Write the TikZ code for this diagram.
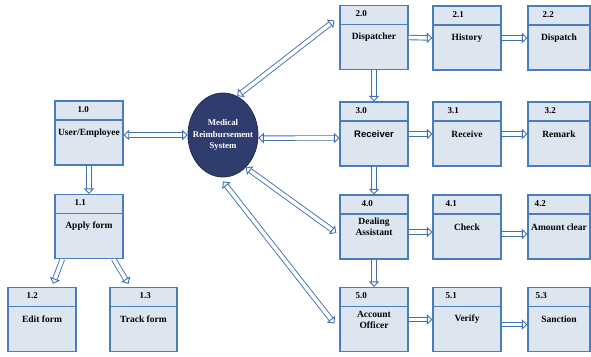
\documentclass[tikz,border=0pt]{standalone}
\usepackage{fontspec}
\setmainfont{Liberation Serif}
\setsansfont{Liberation Sans}
\usetikzlibrary{arrows,arrows.meta}
\usetikzlibrary{shapes.geometric}
\usepackage{xcolor}
\definecolor{boxblue}{HTML}{4A7CC0}
\definecolor{boxfill}{HTML}{DDE5F0}
\definecolor{sysnavy}{HTML}{2F3D6E}
\definecolor{flowblue}{HTML}{3F70B2}

\tikzset{
 procbox/.style={draw=boxblue, line width=1.3pt, fill=boxfill, minimum height=64pt, inner sep=1pt, align=center,
  font=\fontsize{9.5}{11}\selectfont\bfseries,
  path picture={\draw[boxblue, line width=1.3pt] ([yshift=-19pt]path picture bounding box.north west) -- ([yshift=-19pt]path picture bounding box.north east);}},
 numlbl/.style={font=\fontsize{9}{10}\selectfont\bfseries, inner sep=0pt},
 sysnode/.style={ellipse, fill=sysnavy, draw=sysnavy!70!black, line width=0.8pt, minimum width=70pt, minimum height=84pt, inner sep=0pt},
 systext/.style={text=white, align=center, inner sep=0pt, font=\fontsize{8.8}{11.5}\selectfont\bfseries},
 flowtip/.tip={Triangle[open, fill=white, length=5.5pt, width=10.5pt, line width=0.9pt]},
 flow/.style={draw=flowblue, line width=0.9pt, double=white, double distance=3.6pt, -flowtip},
 flowtwo/.style={flow, flowtip-flowtip}
}

\begin{document}
\begin{tikzpicture}[x=1pt, y=-1pt]
\useasboundingbox (0,0) rectangle (591,356);
\node[sysnode] (sys) at (223,135) {};
\node[systext] (systxt) at (sys) {Medical\\Reimbursement\\System};
\foreach \n/\x/\y/\w/\num/\dx/\txt in {
 p10/89/133/68/1.0/29/{User/Employee}, p11/89/226.5/68/1.1/26/{Apply form},
 p12/42/319.5/68/1.2/25/{Edit form}, p13/143.5/319.5/67/1.3/36/{Track form},
 p20/374/37.5/68/2.0/22/Dispatcher, p21/467/38/68/2.1/26/History, p22/559/38/62/2.2/21/Dispatch,
 p30/374/134/68/3.0/22/{\sffamily Receiver}, p31/467/134/68/3.1/21/Receive, p32/559/134/62/3.2/23/Remark,
 p40/374/227/68/4.0/28/{Dealing\\Assistant}, p41/467/227/68/4.1/19/Check, p42/559/227/62/4.2/13/{Amount clear},
 p50/374/319.5/68/5.0/22/{Account\\Officer}, p51/467/319.5/68/5.1/19/Verify, p53/559/319.5/62/5.3/14/Sanction} {
 \node[procbox, minimum width=\w pt] (\n) at (\x,\y) {\txt};
 \node[numlbl] (\n num) at ([xshift=\dx pt, yshift=-9pt]\n.north west) {\num};
}
% system <-> processes
\draw[flowtwo] ([yshift=-2pt]p10.east) -- (sys.west);
\draw[flowtwo] (sys.70) -- ([xshift=-5pt,yshift=17pt]p20.west);
\draw[flowtwo] (sys.-5) -- ([yshift=-4pt]p30.west);
\draw[flowtwo] (sys.-55) -- ([xshift=-3pt,yshift=-6pt]p40.west);
\draw[flowtwo] ([yshift=-4pt]sys.south) -- ([xshift=-5pt,yshift=-4pt]p50.west);
% user side
\draw[flow] (p10.south) -- (p11.north);
\draw[flow] ([xshift=8pt]p11.south west) -- ([xshift=11pt,yshift=3pt]p12.north);
\draw[flow] ([xshift=-10pt]p11.south east) -- ([xshift=-15pt,yshift=3pt]p13.north);
% staff chain
\draw[flow] (p20.south) -- (p30.north);
\draw[flow] (p30.south) -- (p40.north);
\draw[flow] (p40.south) -- (p50.north);
\draw[flow] (p20.east) -- (p21.west);
\draw[flow] (p21.east) -- (p22.west);
\draw[flow] (p30.east) -- (p31.west);
\draw[flow] (p31.east) -- (p32.west);
\draw[flow] ([yshift=-5pt]p40.east) -- ([yshift=-5pt]p41.west);
\draw[flow] ([yshift=-7pt]p41.east) -- ([yshift=-7pt]p42.west);
\draw[flow] (p50.east) -- (p51.west);
\draw[flow] ([yshift=-5pt]p51.east) -- ([yshift=-5pt]p53.west);
\end{tikzpicture}
\end{document}
